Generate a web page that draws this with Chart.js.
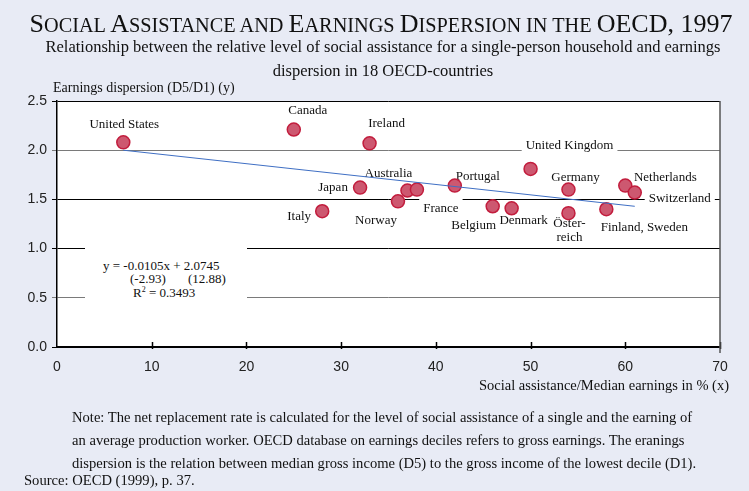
<!DOCTYPE html>
<html>
<head>
<meta charset="utf-8">
<script src="https://cdn.jsdelivr.net/npm/chart.js@4"></script>
<style>
  body { margin: 0; background: #e8ebf5; }
  #wrap { position: relative; width: 749px; height: 491px; overflow: hidden; background: #e8ebf5; }
  #chart { position: absolute; left: 0; top: 0; }
  .txt { position: absolute; font-family: "Liberation Serif", "Times New Roman", serif; color: #111; white-space: nowrap; }
  #title { left: 0; width: 762px; top: 10px; text-align: center; font-size: 20.3px; line-height: 28px; }
  #title .cap { font-size: 26px; }
  #subtitle { left: 0; width: 766px; top: 35px; text-align: center; font-size: 16.5px; line-height: 24px; }
  #ytitle { left: 53px; top: 80px; font-size: 14px; line-height: 16px; }
  #xtitle { right: 20px; top: 377px; font-size: 14.5px; line-height: 17px; }
  #eq { left: 85px; top: 242px; width: 162px; height: 66px; background: #fff; font-size: 13px; line-height: 13.5px; }
  #eq div { position: absolute; }
  #note { left: 72px; top: 406px; font-size: 14.6px; line-height: 23px; }
  #source { left: 24px; top: 471px; font-size: 14.6px; line-height: 18px; }
</style>
</head>
<body>
<div id="wrap">
  <canvas id="chart" width="749" height="491"></canvas>
  <div class="txt" id="title"><span class="cap">S</span>OCIAL <span class="cap">A</span>SSISTANCE AND <span class="cap">E</span>ARNINGS <span class="cap">D</span>ISPERSION IN THE <span class="cap">OECD, 1997</span></div>
  <div class="txt" id="subtitle">Relationship between the relative level of social assistance for a single-person household and earnings<br>dispersion in 18 OECD-countries</div>
  <div class="txt" id="ytitle">Earnings dispersion (D5/D1) (y)</div>
  <div class="txt" id="xtitle">Social assistance/Median earnings in % (x)</div>
  <div class="txt" id="eq">
    <div style="left:18px;top:17px">y = -0.0105x + 2.0745</div>
    <div style="left:45px;top:30px">(-2.93)</div>
    <div style="left:103px;top:30px">(12.88)</div>
    <div style="left:48px;top:44px">R<sup style="font-size:8px;line-height:0">2</sup> = 0.3493</div>
  </div>
  <div class="txt" id="note">Note: The net replacement rate is calculated for the level of social assistance of a single and the earning of<br>an average production worker. OECD database on earnings deciles refers to gross earnings. The eranings<br>dispersion is the relation between median gross income (D5) to the gross income of the lowest decile (D1).</div>
  <div class="txt" id="source">Source: OECD (1999), p. 37.</div>
</div>
<script>
// data
const countries = ["United States", "Canada", "Ireland", "Japan", "Italy", "Norway", "Australia", "France",
  "Portugal", "United Kingdom", "Belgium", "Denmark", "Germany", "Österreich", "Finland, Sweden",
  "Netherlands", "Switzerland"];
const assistance = [7, 25, 33, 32, 28, 36, 37, 38, 42, 50, 46, 48, 54, 54, 58, 60, 61];
const dispersion = [2.08, 2.21, 2.07, 1.62, 1.38, 1.48, 1.59, 1.60, 1.64, 1.81, 1.43, 1.41, 1.60, 1.36, 1.40, 1.64, 1.57];
const trendX = [7, 61];
const trendY = [2.00, 1.43];
const xTicks = [0, 10, 20, 30, 40, 50, 60, 70];
const yTicks = [0, 0.5, 1.0, 1.5, 2.0, 2.5];

// label placement, pixel offsets from each point
const labelPos = {
  "United States": { dx: 1, dy: -18 },
  "Canada": { dx: 14, dy: -19 },
  "Ireland": { dx: 17, dy: -20 },
  "Japan": { dx: -27, dy: 0 },
  "Italy": { dx: -23, dy: 5 },
  "Norway": { dx: -22, dy: 19 },
  "Australia": { dx: -19, dy: -17 },
  "France": { dx: 24, dy: 19, bg: true },
  "Portugal": { dx: 23, dy: -9 },
  "United Kingdom": { dx: 39, dy: -23, bg: true },
  "Belgium": { dx: -19, dy: 19 },
  "Denmark": { dx: 12, dy: 12 },
  "Germany": { dx: 7, dy: -12 },
  "Österreich": { dx: 1, dy: 10, lines: ["Öster-", "reich"] },
  "Finland, Sweden": { dx: 38, dy: 18 },
  "Netherlands": { dx: 40, dy: -8 },
  "Switzerland": { dx: 45, dy: 6, bg: true }
};

const decor = {
  id: "decor",
  beforeDraw(chart) {
    const { ctx, chartArea: a } = chart;
    ctx.save();
    ctx.fillStyle = "#fff";
    ctx.fillRect(a.left, a.top, a.right - a.left, a.bottom - a.top);
    ctx.restore();
  },
  beforeDatasetsDraw(chart) {
    const { ctx, scales } = chart;
    ctx.save();
    ctx.font = '13px "Liberation Serif", "Times New Roman", serif';
    ctx.textAlign = "center";
    ctx.textBaseline = "middle";
    countries.forEach((name, i) => {
      const p = labelPos[name];
      const px = scales.x.getPixelForValue(assistance[i]) + p.dx;
      const py = scales.y.getPixelForValue(dispersion[i]) + p.dy;
      const lines = p.lines || [name];
      lines.forEach((ln, j) => {
        const y = py + j * 14;
        if (p.bg) {
          const w = ctx.measureText(ln).width + 8;
          ctx.fillStyle = "#fff";
          ctx.fillRect(px - w / 2, y - 10, w, 20);
        }
        ctx.fillStyle = "#111";
        ctx.fillText(ln, px, y);
      });
    });
    ctx.restore();
  },
  afterDraw(chart) {
    const { ctx, chartArea: a, scales } = chart;
    ctx.save();
    ctx.strokeStyle = "#000";
    ctx.lineWidth = 1.5;
    xTicks.forEach(v => {
      if (v === 0) return;
      const x = Math.round(scales.x.getPixelForValue(v)) + 0.5;
      ctx.beginPath();
      ctx.moveTo(x, a.bottom - 5);
      ctx.lineTo(x, a.bottom + 2);
      ctx.stroke();
    });
    ctx.strokeStyle = "#555";
    ctx.lineWidth = 1.5;
    ctx.beginPath();
    ctx.moveTo(a.right, a.top);
    ctx.lineTo(a.right, a.bottom + 6);
    ctx.stroke();
    ctx.restore();
  }
};

const serif = '"Liberation Serif", "Times New Roman", serif';
const sans = '"Liberation Sans", Arial, sans-serif';

const chart = new Chart(document.getElementById("chart"), {
  type: "scatter",
  data: {
    datasets: [
      {
        type: "line",
        data: trendX.map((x, i) => ({ x, y: trendY[i] })),
        borderColor: "#3f6fc4",
        borderWidth: 1,
        pointRadius: 0,
        fill: false,
        order: 0
      },
      {
        data: assistance.map((x, i) => ({ x, y: dispersion[i] })),
        backgroundColor: "#cd5870",
        borderColor: "#c21d3d",
        borderWidth: 1.5,
        pointRadius: 6.5,
        order: 1
      }
    ]
  },
  options: {
    responsive: false,
    animation: false,
    layout: { padding: { left: 0, right: 29, top: 101, bottom: 104 } },
    plugins: { legend: { display: false }, tooltip: { enabled: false } },
    scales: {
      x: {
        type: "linear",
        min: 0,
        max: 70,
        afterFit: s => { s.height = 40; },
        afterBuildTicks: s => { s.ticks = xTicks.map(v => ({ value: v })); },
        grid: { drawOnChartArea: false, drawTicks: false },
        border: { display: true, color: "#000", width: 2 },
        ticks: { padding: 12, color: "#222", font: { family: sans, size: 14 }, callback: v => v }
      },
      y: {
        type: "linear",
        min: 0,
        max: 2.5,
        afterFit: s => { s.width = 57; },
        afterBuildTicks: s => { s.ticks = yTicks.map(v => ({ value: v })); },
        grid: {
          color: c => (c.tick && (c.tick.value === 2 || c.tick.value === 0.5)) ? "#7a7a7a" : "#000",
          lineWidth: 1,
          tickLength: 5
        },
        border: { display: true, color: "#000", width: 1.5 },
        ticks: { padding: 5, color: "#222", font: { family: sans, size: 14 }, callback: v => v.toFixed(1) }
      }
    }
  },
  plugins: [decor]
});
</script>
</body>
</html>
